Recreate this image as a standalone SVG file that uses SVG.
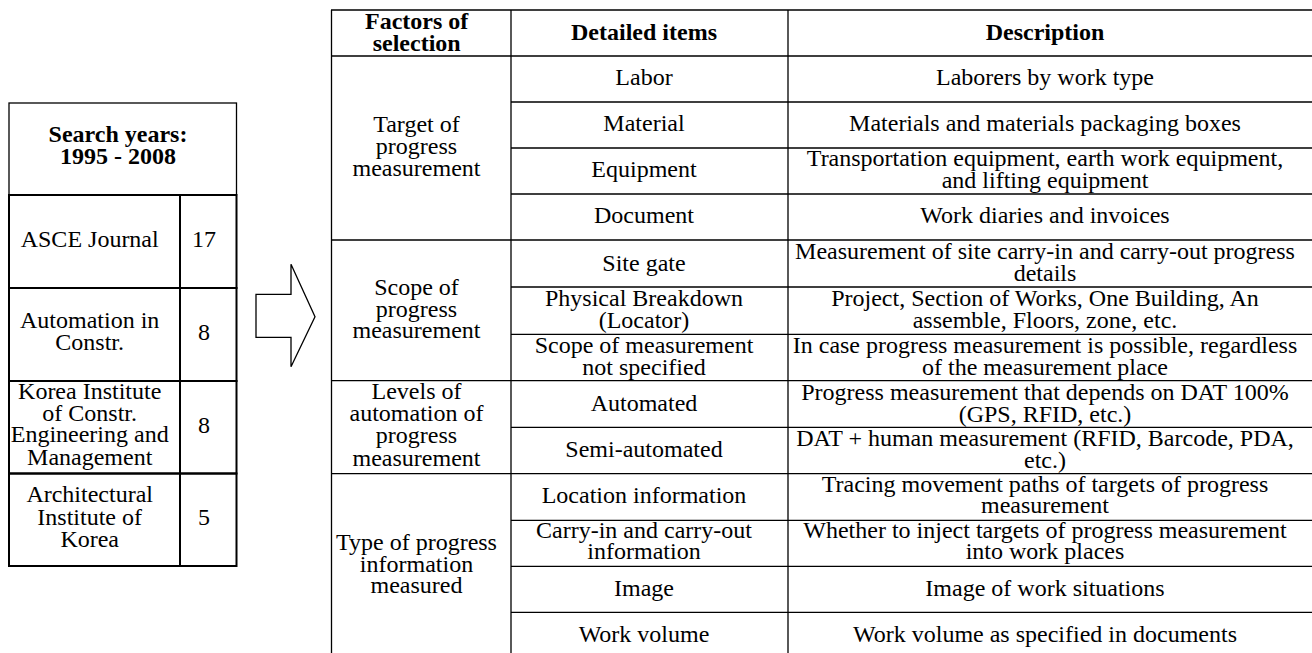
<svg xmlns="http://www.w3.org/2000/svg" width="1312" height="653" viewBox="0 0 1312 653">
<style>
text{font-family:"Liberation Serif","Times New Roman",serif;font-size:24px;fill:#000;text-anchor:middle}
.b{font-weight:bold}
.g{stroke:#000;stroke-width:1.3;fill:none}
.g2{stroke:#000;stroke-width:2;fill:none}
</style>
<rect width="1312" height="653" fill="#fff"/>
<g id="search-table">
  <g id="search-header">
    <rect class="g" x="9" y="103" width="227.5" height="92"/>
    <text class="b" x="118" y="142.3">Search years:</text>
    <text class="b" x="118" y="164">1995 - 2008</text>
  </g>
  <g id="src-asce">
    <rect class="g2" x="9" y="195" width="171" height="93"/>
    <rect class="g2" x="180" y="195" width="56.5" height="93"/>
    <text x="89.7" y="246.7">ASCE Journal</text>
    <text x="204" y="246.7">17</text>
  </g>
  <g id="src-autcon">
    <rect class="g2" x="9" y="288" width="171" height="93"/>
    <rect class="g2" x="180" y="288" width="56.5" height="93"/>
    <text x="89.7" y="328.3">Automation in</text>
    <text x="89.7" y="350">Constr.</text>
    <text x="204" y="340">8</text>
  </g>
  <g id="src-kicem">
    <rect class="g2" x="9" y="381" width="171" height="92.5"/>
    <rect class="g2" x="180" y="381" width="56.5" height="92.5"/>
    <text x="89.7" y="399.3">Korea Institute</text>
    <text x="89.7" y="420.7">of Constr.</text>
    <text x="89.7" y="442.3">Engineering and</text>
    <text x="89.7" y="464.7">Management</text>
    <text x="204" y="432.7">8</text>
  </g>
  <g id="src-aik">
    <rect class="g2" x="9" y="473.5" width="171" height="92.5"/>
    <rect class="g2" x="180" y="473.5" width="56.5" height="92.5"/>
    <text x="89.7" y="502.3">Architectural</text>
    <text x="89.7" y="525">Institute of</text>
    <text x="89.7" y="546.7">Korea</text>
    <text x="204" y="525">5</text>
  </g>
</g>
<g id="connectors">
  <polygon class="g" points="256,294.3 291,294.3 291,264.3 315,316.7 291,366.7 291,337.3 256,337.3"/>
</g>
<g id="main-table">
  <g id="grid">
    <path class="g" d="M331,10H1312 M331,56H1312 M511,102H1312 M511,148H1312 M511,194H1312 M331,240H1312 M511,287H1312 M511,334.3H1312 M331,380.7H1312 M511,427.3H1312 M331,473.7H1312 M511,520.3H1312 M511,566.3H1312 M511,612.3H1312 M331.5,10V660 M511,10V660 M788,10V660"/>
  </g>
  <g id="header">
    <text class="b" x="416.7" y="29.3">Factors of</text>
    <text class="b" x="416.7" y="50.7">selection</text>
    <text class="b" x="644" y="40">Detailed items</text>
    <text class="b" x="1045" y="40">Description</text>
  </g>
  <g id="factor-target">
    <text x="416.5" y="131.7">Target of</text>
    <text x="416.5" y="153.5">progress</text>
    <text x="416.5" y="175.7">measurement</text>
  </g>
  <g id="factor-scope">
    <text x="416.5" y="295">Scope of</text>
    <text x="416.5" y="316.5">progress</text>
    <text x="416.5" y="338.3">measurement</text>
  </g>
  <g id="factor-levels">
    <text x="416.5" y="399">Levels of</text>
    <text x="416.5" y="420.7">automation of</text>
    <text x="416.5" y="443.3">progress</text>
    <text x="416.5" y="465.7">measurement</text>
  </g>
  <g id="factor-type">
    <text x="416.5" y="550">Type of progress</text>
    <text x="416.5" y="571.7">information</text>
    <text x="416.5" y="593.3">measured</text>
  </g>
  <g id="item-labor">
    <text x="644" y="85">Labor</text>
    <text x="1045" y="85">Laborers by work type</text>
  </g>
  <g id="item-material">
    <text x="644" y="131">Material</text>
    <text x="1045" y="131">Materials and materials packaging boxes</text>
  </g>
  <g id="item-equipment">
    <text x="644" y="177">Equipment</text>
    <text x="1045" y="166">Transportation equipment, earth work equipment,</text>
    <text x="1045" y="188">and lifting equipment</text>
  </g>
  <g id="item-document">
    <text x="644" y="223">Document</text>
    <text x="1045" y="223">Work diaries and invoices</text>
  </g>
  <g id="item-sitegate">
    <text x="644" y="270.5">Site gate</text>
    <text x="1045" y="259.3">Measurement of site carry-in and carry-out progress</text>
    <text x="1045" y="281">details</text>
  </g>
  <g id="item-breakdown">
    <text x="644" y="306">Physical Breakdown</text>
    <text x="644" y="328">(Locator)</text>
    <text x="1045" y="306">Project, Section of Works, One Building, An</text>
    <text x="1045" y="328">assemble, Floors, zone, etc.</text>
  </g>
  <g id="item-notspecified">
    <text x="644" y="353.3">Scope of measurement</text>
    <text x="644" y="375">not specified</text>
    <text x="1045" y="353.3">In case progress measurement is possible, regardless</text>
    <text x="1045" y="375">of the measurement place</text>
  </g>
  <g id="item-automated">
    <text x="644" y="410.7">Automated</text>
    <text x="1045" y="400">Progress measurement that depends on DAT 100%</text>
    <text x="1045" y="421.7">(GPS, RFID, etc.)</text>
  </g>
  <g id="item-semi">
    <text x="644" y="456.7">Semi-automated</text>
    <text x="1045" y="446">DAT + human measurement (RFID, Barcode, PDA,</text>
    <text x="1045" y="468">etc.)</text>
  </g>
  <g id="item-location">
    <text x="644" y="502.7">Location information</text>
    <text x="1045" y="491.7">Tracing movement paths of targets of progress</text>
    <text x="1045" y="513.3">measurement</text>
  </g>
  <g id="item-carry">
    <text x="644" y="538.3">Carry-in and carry-out</text>
    <text x="644" y="559.3">information</text>
    <text x="1045" y="538.3">Whether to inject targets of progress measurement</text>
    <text x="1045" y="559.3">into work places</text>
  </g>
  <g id="item-image">
    <text x="644" y="595.7">Image</text>
    <text x="1045" y="595.7">Image of work situations</text>
  </g>
  <g id="item-volume">
    <text x="644" y="641.7">Work volume</text>
    <text x="1045" y="641.7">Work volume as specified in documents</text>
  </g>
</g>
</svg>
